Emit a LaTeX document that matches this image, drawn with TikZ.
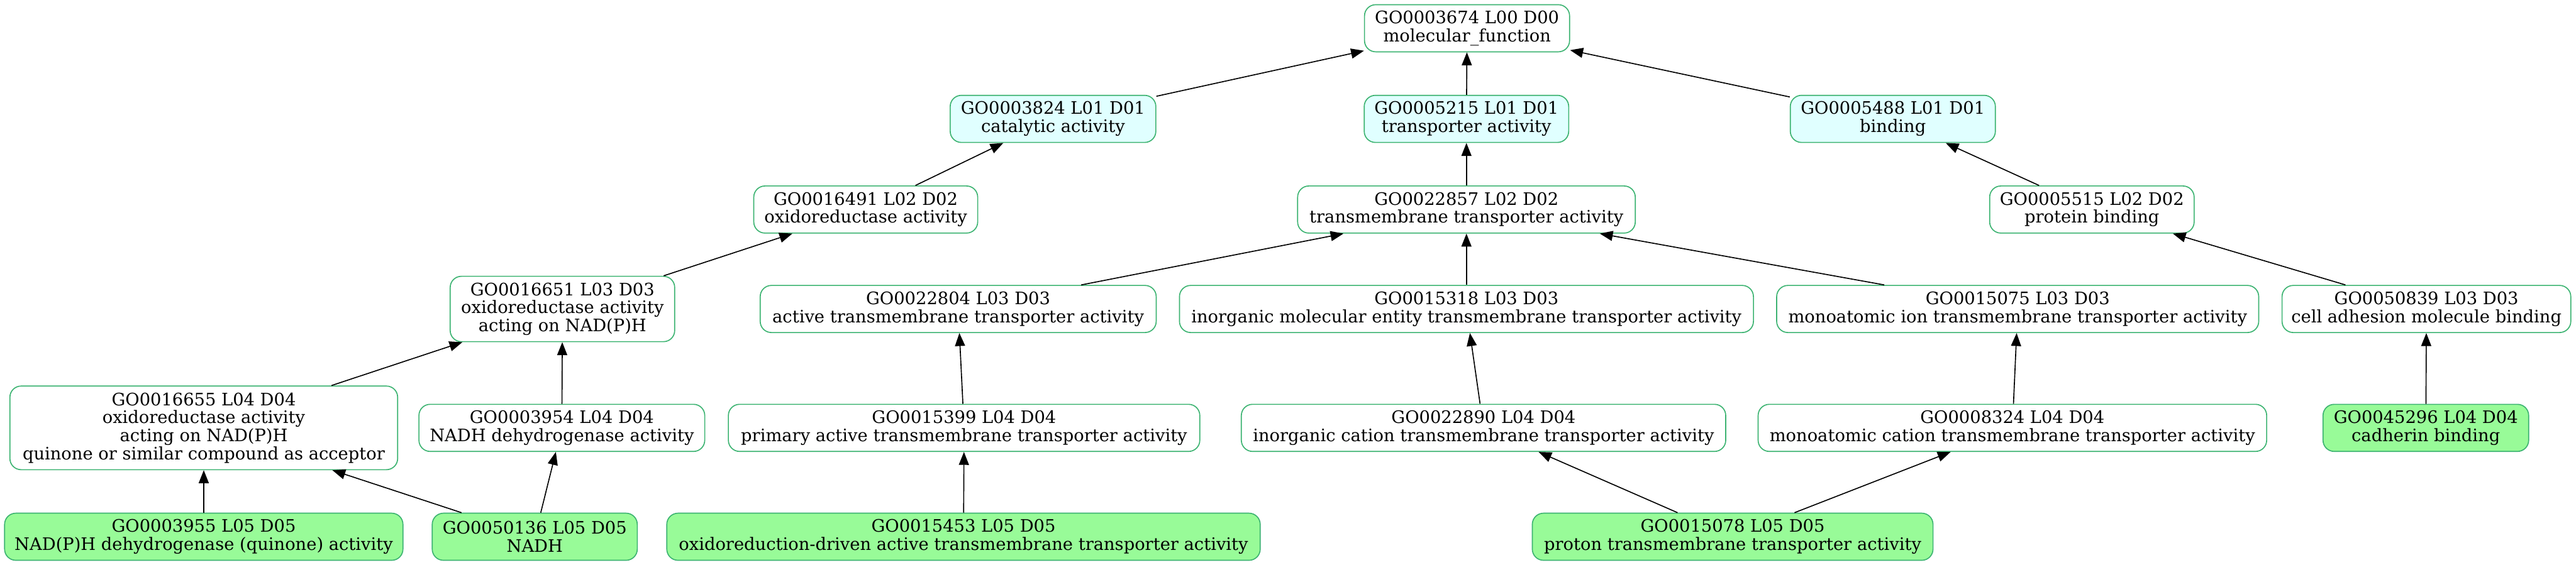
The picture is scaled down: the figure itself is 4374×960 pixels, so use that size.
\documentclass[tikz,border=0pt]{standalone}
\usepackage{fontspec}
\setmainfont{DejaVu Serif}
\usepackage{tikz}
\usetikzlibrary{arrows.meta}
\definecolor{goline}{HTML}{3CB371}
\definecolor{gocyan}{HTML}{E0FFFF}
\definecolor{goleaf}{HTML}{98FB98}
\tikzset{%
	term/.style  = {draw=goline, line width=0.5pt, rectangle, rounded corners=0.19cm, minimum height=0.8cm, inner sep=0pt, align=center, font=\fontsize{8.3}{8.7}\selectfont},
	top/.style   = {term, fill=gocyan},
	leaf/.style  = {term, fill=goleaf},
	arrow/.style = {line width=0.5pt, -{Triangle[length=0.22cm, width=0.17cm]}},
}

\begin{document}
\begin{tikzpicture}[x=0.01cm,y=-0.01cm]
	\useasboundingbox (0,0) rectangle (4374,960);
	% level 0 and 1
	\node[term, minimum width=3.48cm] (mf) at (2491,48) {GO0003674 L00 D00\\molecular\_function};
	\node[top, minimum width=3.49cm] (cat) at (1788,202) {GO0003824 L01 D01\\catalytic activity};
	\node[top, minimum width=3.47cm] (trans) at (2490,202) {GO0005215 L01 D01\\transporter activity};
	\node[top, minimum width=3.48cm] (bind) at (3214,202) {GO0005488 L01 D01\\binding};
	% level 2
	\node[term, minimum width=3.80cm] (oxred) at (1470,356) {GO0016491 L02 D02\\oxidoreductase activity};
	\node[term, minimum width=5.73cm] (tmtrans) at (2490,356) {GO0022857 L02 D02\\transmembrane transporter activity};
	\node[term, minimum width=3.47cm] (protbind) at (3552,356) {GO0005515 L02 D02\\protein binding};
	% level 3
	\node[term, minimum width=3.81cm, minimum height=1.11cm] (oxnad) at (955,525) {GO0016651 L03 D03\\oxidoreductase activity\\acting on NAD(P)H};
	\node[term, minimum width=6.72cm] (acttm) at (1627,525) {GO0022804 L03 D03\\active transmembrane transporter activity};
	\node[term, minimum width=9.74cm] (inorgmol) at (2490,525) {GO0015318 L03 D03\\inorganic molecular entity transmembrane transporter activity};
	\node[term, minimum width=8.18cm] (monoion) at (3426,525) {GO0015075 L03 D03\\monoatomic ion transmembrane transporter activity};
	\node[term, minimum width=4.90cm] (celladh) at (4120,525) {GO0050839 L03 D03\\cell adhesion molecule binding};
	% level 4
	\node[term, minimum width=6.58cm, minimum height=1.42cm] (oxquin) at (346,727) {GO0016655 L04 D04\\oxidoreductase activity\\acting on NAD(P)H\\quinone or similar compound as acceptor};
	\node[term, minimum width=4.85cm] (nadhdh) at (954,727) {GO0003954 L04 D04\\NADH dehydrogenase activity};
	\node[term, minimum width=8.00cm] (primact) at (1637,727) {GO0015399 L04 D04\\primary active transmembrane transporter activity};
	\node[term, minimum width=8.22cm] (inorgcat) at (2519,727) {GO0022890 L04 D04\\inorganic cation transmembrane transporter activity};
	\node[term, minimum width=8.63cm] (monocat) at (3417,727) {GO0008324 L04 D04\\monoatomic cation transmembrane transporter activity};
	\node[leaf, minimum width=3.49cm] (cadh) at (4119,727) {GO0045296 L04 D04\\cadherin binding};
	% level 5
	\node[leaf, minimum width=6.76cm] (nadpqu) at (346,912) {GO0003955 L05 D05\\NAD(P)H dehydrogenase (quinone) activity};
	\node[leaf, minimum width=3.48cm] (nadh) at (908,912) {GO0050136 L05 D05\\NADH};
	\node[leaf, minimum width=10.07cm] (oxdriv) at (1636,912) {GO0015453 L05 D05\\oxidoreduction-driven active transmembrane transporter activity};
	\node[leaf, minimum width=6.80cm] (proton) at (2942,912) {GO0015078 L05 D05\\proton transmembrane transporter activity};
	% is_a edges
	\draw[arrow] (cat) -- (mf);
	\draw[arrow] (trans) -- (mf);
	\draw[arrow] (bind) -- (mf);
	\draw[arrow] (oxred) -- (cat);
	\draw[arrow] (tmtrans) -- (trans);
	\draw[arrow] (protbind) -- (bind);
	\draw[arrow] (oxnad) -- (oxred);
	\draw[arrow] (acttm) -- (tmtrans);
	\draw[arrow] (inorgmol) -- (tmtrans);
	\draw[arrow] (monoion) -- (tmtrans);
	\draw[arrow] (celladh) -- (protbind);
	\draw[arrow] (oxquin) -- (oxnad);
	\draw[arrow] (nadhdh) -- (oxnad);
	\draw[arrow] (primact) -- (acttm);
	\draw[arrow] (inorgcat) -- (inorgmol);
	\draw[arrow] (monocat) -- (monoion);
	\draw[arrow] (cadh) -- (celladh);
	\draw[arrow] (nadpqu) -- (oxquin);
	\draw[arrow] (nadh) -- (oxquin);
	\draw[arrow] (nadh) -- (nadhdh);
	\draw[arrow] (oxdriv) -- (primact);
	\draw[arrow] (proton) -- (inorgcat);
	\draw[arrow] (proton) -- (monocat);
\end{tikzpicture}
\end{document}
